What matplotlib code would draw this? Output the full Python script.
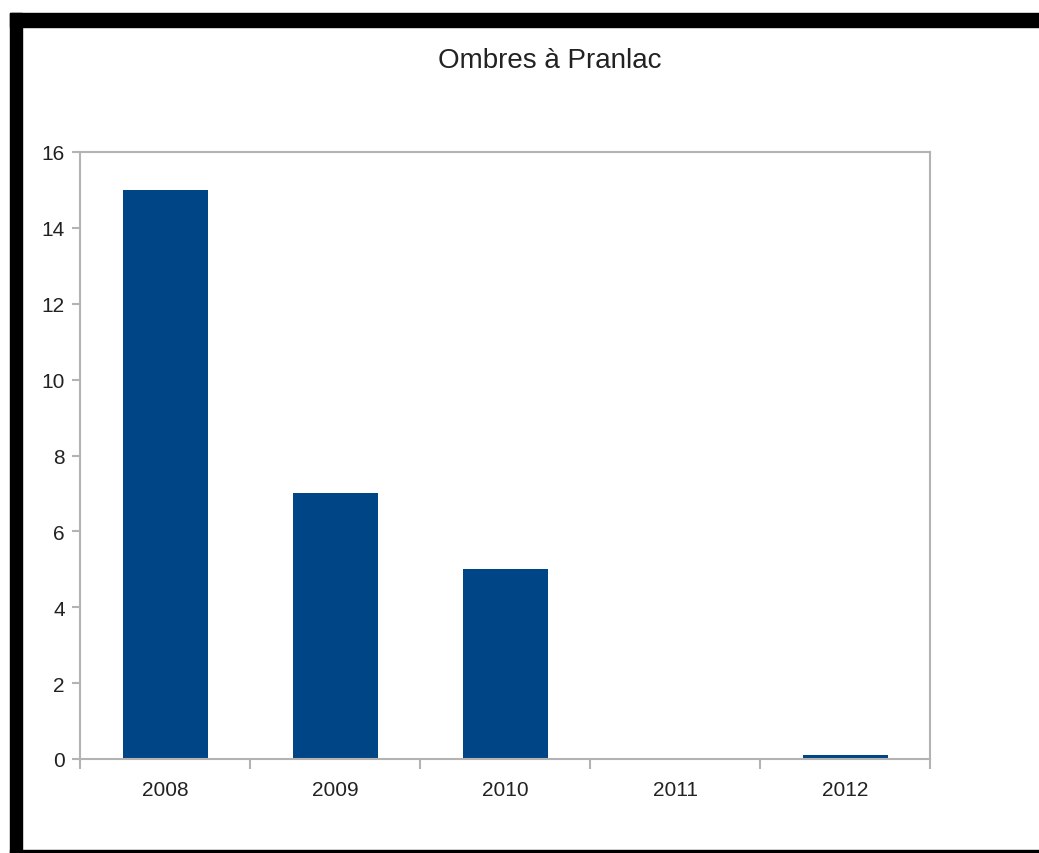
import numpy as np
import matplotlib.pyplot as plt
from matplotlib.patches import Rectangle

# données
annees = ["2008", "2009", "2010", "2011", "2012"]
ombres = [15, 7, 5, 0, 0.1]
y_ticks = [0, 2, 4, 6, 8, 10, 12, 14, 16]

plt.rcParams['font.family'] = ['Liberation Sans', 'DejaVu Sans']

W, H = 1039, 854
fig = plt.figure(figsize=(W / 100, H / 100), dpi=100)

# cadre noir autour de l'image
fig.patches.append(Rectangle((10 / W, 1 - 28 / H), 1 - 10 / W, 14 / H,
                             transform=fig.transFigure, color='black', zorder=0))
fig.patches.append(Rectangle((10 / W, 0), 12 / W, 1 - 14 / H,
                             transform=fig.transFigure, color='black', zorder=0))
fig.patches.append(Rectangle((10 / W, 0), 1 - 10 / W, 3 / H,
                             transform=fig.transFigure, color='black', zorder=0))

ax = fig.add_axes([80 / W, 1 - 760 / H, 850 / W, 607 / H])
x = np.arange(len(annees))
ax.bar(x, ombres, width=0.5, color='#004586', zorder=2)

ax.set_xlim(-0.5, len(annees) - 0.5)
ax.set_ylim(0, 16)
ax.set_yticks(y_ticks)
ax.set_yticklabels([str(v) for v in y_ticks], fontsize=15, color='#222222')
ax.set_xticks(x)
ax.set_xticklabels(annees, fontsize=15, color='#222222')
ax.set_xticks(np.arange(-0.5, len(annees)), minor=True)
ax.tick_params(axis='x', which='major', length=0, pad=15)
ax.tick_params(axis='x', which='minor', length=7, width=1.5, color='#b3b3b3', direction='out')
ax.tick_params(axis='y', length=6, width=1.5, color='#b3b3b3', direction='out', pad=5)

for s in ax.spines.values():
    s.set_color('#b3b3b3')
    s.set_linewidth(1.5)

fig.text(550 / W, 1 - 61 / H, "Ombres à Pranlac", ha='center', va='center',
         fontsize=20, color='#222222')

fig.savefig("out.png", dpi=100)
